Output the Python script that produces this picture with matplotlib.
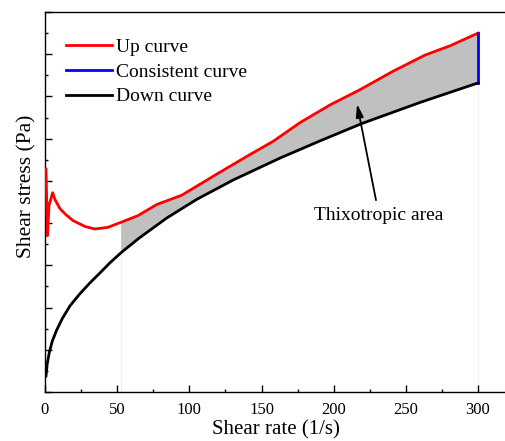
import numpy as np
import matplotlib
matplotlib.use('Agg')
import matplotlib.pyplot as plt
from matplotlib.ticker import MultipleLocator, NullFormatter

plt.rcParams['font.family'] = ['Liberation Serif', 'DejaVu Serif']

# Up curve: shear rate (1/s) vs shear stress (Pa)
up_rate = [0.7, 1.7, 2.8, 5.3, 6.9, 10.4, 14.5, 19.4, 27.7, 34.6, 43.6, 52.7,
           64.6, 77.4, 94.7, 119.0, 139.8, 158.2, 176.7, 197.5, 218.2,
           241.3, 263.3, 280.6, 300.0]
up_stress = [26.4, 18.5, 22.1, 23.6, 22.8, 21.7, 21.0, 20.3, 19.6, 19.3, 19.5,
             20.1, 20.9, 22.2, 23.3, 25.8, 27.9, 29.7, 31.9, 34.0, 35.8,
             38.0, 39.9, 41.0, 42.5]

# Down curve
down_rate = [0.7, 1.5, 3.0, 5.0, 8.0, 12.0, 17.3, 24.0, 31.0, 38.1, 45.0,
             52.7, 65.0, 84.3, 105.0, 130.3, 162.8, 190.0, 219.6, 260.0, 300.0]
down_stress = [1.9, 3.3, 4.7, 6.0, 7.3, 8.7, 10.2, 11.6, 12.9, 14.1, 15.3,
               16.5, 18.2, 20.6, 22.8, 25.1, 27.7, 29.7, 31.8, 34.3, 36.6]

hold_rate = 300.0      # where the up and down curves are joined
area_start = 52.7      # left edge of the shaded loop

fig = plt.figure(figsize=(5.05, 4.41), dpi=100)
ax = fig.add_axes([0.0891, 0.1111, 0.9147, 0.8617])

# shaded hysteresis area between up and down curves
ux = [x for x in up_rate if x >= area_start]
uy = [y for x, y in zip(up_rate, up_stress) if x >= area_start]
dx = [x for x in down_rate if x >= area_start]
dy = [y for x, y in zip(down_rate, down_stress) if x >= area_start]
ax.fill(ux + dx[::-1], uy + dy[::-1], color='#c0c0c0', lw=0, zorder=1)
ax.plot([area_start, area_start], [0, dy[0]], color='#ececec', lw=0.8, zorder=0)
ax.plot([hold_rate, hold_rate], [0, dy[-1]], color='#f2f2f2', lw=0.8, zorder=0)

ax.plot(up_rate, up_stress, color='#ff0000', lw=2, label='Up curve', zorder=3)
ax.plot([hold_rate, hold_rate], [down_stress[-1], up_stress[-1]], color='#0000ff',
        lw=2, label='Consistent curve', zorder=3)
ax.plot(down_rate, down_stress, color='black', lw=2, label='Down curve', zorder=3)

ax.annotate('Thixotropic area', xy=(216.2, 34.1), xytext=(231.4, 20.9),
            textcoords='data', ha='center', va='center', fontsize=14,
            arrowprops=dict(arrowstyle='-|>,head_length=0.55,head_width=0.16',
                            color='black', lw=1.3, shrinkA=3, shrinkB=0))

ax.set_xlim(0, 320)
ax.set_ylim(0, 45)
ax.xaxis.set_major_locator(MultipleLocator(50))
ax.xaxis.set_minor_locator(MultipleLocator(25))
ax.yaxis.set_major_locator(MultipleLocator(5))
ax.yaxis.set_minor_locator(MultipleLocator(2.5))
ax.yaxis.set_major_formatter(NullFormatter())
ax.tick_params(which='both', direction='in', width=1, labelsize=12,
               top=False, right=False, pad=7)
ax.tick_params(which='major', length=5)
ax.tick_params(which='minor', length=2.5)
for s in ax.spines.values():
    s.set_linewidth(1)

ax.set_xlabel('Shear rate (1/s)', fontsize=15, labelpad=1.5)
ax.set_ylabel('Shear stress (Pa)', fontsize=15.5)
ax.yaxis.set_label_coords(-0.019, 0.542)

ax.legend(loc='upper left', bbox_to_anchor=(0.045, 0.93), frameon=False,
          fontsize=14, handlelength=2.4, handletextpad=0.2, labelspacing=0.36,
          borderpad=0, borderaxespad=0)

fig.savefig('out.png', dpi=100)
